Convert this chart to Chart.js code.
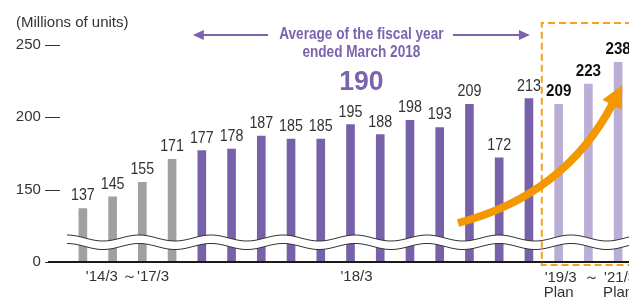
<!DOCTYPE html>
<html>
<head>
<meta charset="utf-8">
<script src="https://cdn.jsdelivr.net/npm/chart.js@4/dist/chart.umd.min.js"></script>
<style>
  html, body { margin: 0; padding: 0; background: #fff; overflow: hidden; }
  #wrap { width: 633px; height: 300px; }
</style>
</head>
<body>
<div id="wrap"><canvas id="chart"></canvas></div>
<script>
const categories = ["'14/3", "'15/3", "'16/3", "'17/3",
                    "'17/4", "'17/5", "'17/6", "'17/7", "'17/8", "'17/9",
                    "'17/10", "'17/11", "'17/12", "'18/1", "'18/2", "'18/3",
                    "'19/3", "'20/3", "'21/3"];
const pastValues = [137, 145, 155, 171];
const fy2018Values = [177, 178, 187, 185, 185, 195, 188, 198, 193, 209, 172, 213];
const planValues = [209, 223, 238];
const yTickValues = [100, 150, 200, 250];
const yTickLabels = ['0', '150', '200', '250'];
const fy2018Average = '190';

const values = pastValues.concat(fy2018Values, planValues);
const colors = values.map((v, i) =>
  i < pastValues.length ? '#a0a09f' :
  i < pastValues.length + fy2018Values.length ? '#7762a9' : '#baaed6');

const purple = '#7a64ad';
const regFont = '"Liberation Sans", Arial, sans-serif';

// fake a condensed face by squeezing the text horizontally
function condText(ctx, text, x, y, sx) {
  ctx.save();
  ctx.translate(x, y);
  ctx.scale(sx, 1);
  ctx.fillText(text, 0, 0);
  ctx.restore();
}

function arrowHead(ctx, tipX, tipY, dx, dy, len, half) {
  const px = -dy, py = dx;
  const bx = tipX - dx * len, by = tipY - dy * len;
  ctx.beginPath();
  ctx.moveTo(tipX, tipY);
  ctx.lineTo(bx + px * half, by + py * half);
  ctx.lineTo(bx - px * half, by - py * half);
  ctx.closePath();
  ctx.fill();
}

const overlay = {
  id: 'overlay',
  afterDatasetsDraw(chart) {
    const ctx = chart.ctx;
    const xs = chart.scales.x, ys = chart.scales.y;
    const base = ys.getPixelForValue(yTickValues[0]);
    const right = chart.width;
    ctx.save();

    // wavy break band
    const x0 = 67, period = 72, amp = 3;
    const upC = base - 24, loC = base - 15.5;
    const wy = (x, c) => c - amp * Math.cos(2 * Math.PI * (x - x0) / period);
    ctx.beginPath();
    for (let x = x0; x <= right; x++) {
      if (x === x0) ctx.moveTo(x, wy(x, upC)); else ctx.lineTo(x, wy(x, upC));
    }
    for (let x = right; x >= x0; x--) ctx.lineTo(x, wy(x, loC));
    ctx.closePath();
    ctx.fillStyle = '#fff';
    ctx.fill();
    ctx.strokeStyle = '#333';
    ctx.lineWidth = 1;
    [upC, loC].forEach(c => {
      ctx.beginPath();
      for (let x = x0; x <= right; x++) {
        if (x === x0) ctx.moveTo(x, wy(x, c)); else ctx.lineTo(x, wy(x, c));
      }
      ctx.stroke();
    });

    // baseline
    ctx.strokeStyle = '#1a1a1a';
    ctx.lineWidth = 2;
    ctx.beginPath();
    ctx.moveTo(48, base);
    ctx.lineTo(right, base);
    ctx.stroke();

    // dashed plan box
    const boxL = (xs.getPixelForValue(15) + xs.getPixelForValue(16)) / 2 - 2;
    ctx.strokeStyle = '#f4a11c';
    ctx.lineWidth = 2;
    ctx.setLineDash([7, 4]);
    ctx.beginPath();
    ctx.moveTo(right + 10, 23);
    ctx.lineTo(boxL, 23);
    ctx.lineTo(boxL, base + 3);
    ctx.lineTo(right + 10, base + 3);
    ctx.stroke();
    ctx.setLineDash([]);

    // value labels
    const meta = chart.getDatasetMeta(0);
    ctx.textAlign = 'center';
    ctx.textBaseline = 'alphabetic';
    meta.data.forEach((bar, i) => {
      const isPlan = i >= pastValues.length + fy2018Values.length;
      ctx.font = isPlan ? 'bold 16px ' + regFont : '17px ' + regFont;
      ctx.fillStyle = isPlan ? '#111' : '#333';
      condText(ctx, String(values[i]), bar.x, bar.y - 8, isPlan ? 0.95 : 0.84);
    });

    // orange growth arrow
    const p0 = [458, 223], p1 = [565, 195], p2 = [613, 103];
    ctx.strokeStyle = '#f39800';
    ctx.fillStyle = '#f39800';
    ctx.lineWidth = 8;
    ctx.beginPath();
    ctx.moveTo(p0[0], p0[1]);
    ctx.quadraticCurveTo(p1[0], p1[1], p2[0], p2[1]);
    ctx.stroke();
    let dx = p2[0] - p1[0], dy = p2[1] - p1[1];
    const dl = Math.hypot(dx, dy); dx /= dl; dy /= dl;
    arrowHead(ctx, p2[0] + dx * 20, p2[1] + dy * 20, dx, dy, 22, 11);

    // average annotation
    const aL = xs.getPixelForValue(pastValues.length);
    const aR = xs.getPixelForValue(pastValues.length + fy2018Values.length - 1);
    const aMid = (aL + aR) / 2 - 4;
    ctx.fillStyle = purple;
    ctx.strokeStyle = purple;
    ctx.lineWidth = 2;
    ctx.font = 'bold 16px ' + regFont;
    ctx.textBaseline = 'middle';
    condText(ctx, 'Average of the fiscal year', aMid, 35, 0.85);
    condText(ctx, 'ended March 2018', aMid, 53, 0.85);
    ctx.font = 'bold 28px ' + regFont;
    condText(ctx, fy2018Average, aMid, 82, 0.95);
    ctx.beginPath();
    ctx.moveTo(aL - 6, 35); ctx.lineTo(268, 35);
    ctx.moveTo(453, 35); ctx.lineTo(aR - 2, 35);
    ctx.stroke();
    arrowHead(ctx, aL - 9, 35, -1, 0, 11, 5);
    arrowHead(ctx, aR + 1, 35, 1, 0, 11, 5);

    // unit label
    ctx.fillStyle = '#333';
    ctx.font = '15px ' + regFont;
    ctx.textAlign = 'left';
    ctx.fillText('(Millions of units)', 16, 23);

    // x labels
    ctx.textAlign = 'center';
    const lx = i => xs.getPixelForValue(i);
    ctx.fillText("'14/3 ～'17/3", (lx(1) + lx(2)) / 2, 277);
    ctx.fillText("'18/3", lx(9) + 6, 277);
    ctx.fillText("'19/3", lx(16) + 2, 278);
    ctx.fillText('～', lx(17) + 3, 278);
    ctx.fillText("'21/3", lx(18) + 2, 278);
    ctx.fillText('Plan', lx(16), 293);
    ctx.fillText('Plan', lx(18), 293);

    ctx.restore();
  }
};

new Chart(document.getElementById('chart'), {
  type: 'bar',
  data: {
    labels: categories,
    datasets: [{
      data: values,
      backgroundColor: colors,
      barThickness: 8,
      borderWidth: 0
    }]
  },
  options: {
    responsive: true,
    maintainAspectRatio: false,
    animation: false,
    layout: { padding: { top: 45, left: 0, right: 0, bottom: 0 } },
    plugins: { legend: { display: false }, tooltip: { enabled: false } },
    scales: {
      x: {
        grid: { display: false },
        border: { display: false },
        ticks: { display: false },
        afterFit: s => { s.height = 38; }
      },
      y: {
        min: 100,
        max: 250,
        grid: { display: false },
        border: { display: false },
        afterBuildTicks: s => { s.ticks = yTickValues.map(v => ({ value: v })); },
        afterFit: s => { s.width = 68; },
        ticks: {
          padding: 0,
          color: '#333',
          font: { family: regFont, size: 15 },
          callback: (v) => yTickLabels[yTickValues.indexOf(v)] + ' —'
        }
      }
    }
  },
  plugins: [overlay]
});
</script>
</body>
</html>
